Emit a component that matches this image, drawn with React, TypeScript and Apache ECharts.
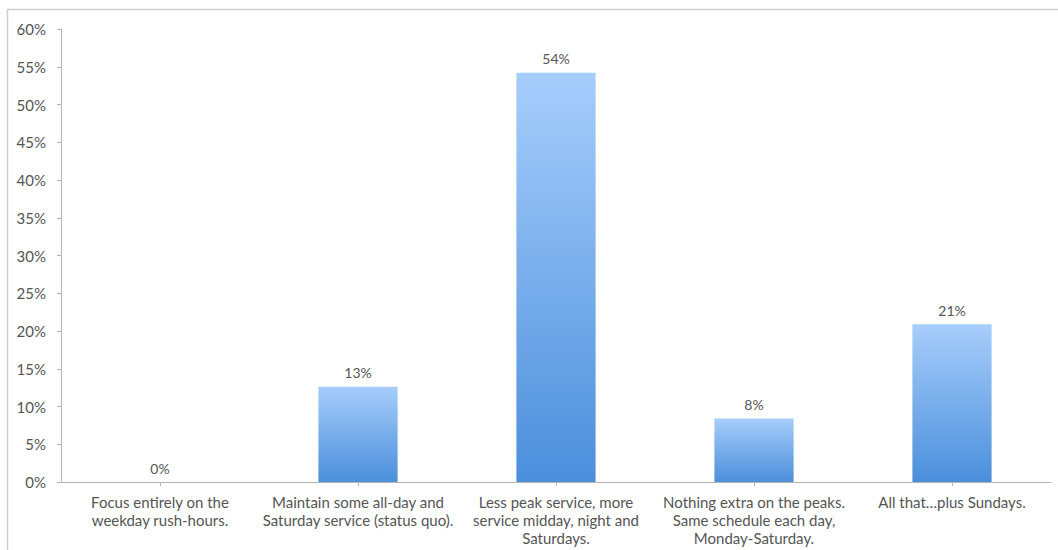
import React, { useEffect, useRef } from "react";
import * as echarts from "echarts";

const categories = [
  "Focus entirely on the\nweekday rush-hours.",
  "Maintain some all-day and\nSaturday service (status quo).",
  "Less peak service, more\nservice midday, night and\nSaturdays.",
  "Nothing extra on the peaks.\nSame schedule each day,\nMonday-Saturday.",
  "All that…plus Sundays.",
];
const values = [0, 12.6, 54.2, 8.4, 20.9];
const yTicks = { min: 0, max: 60, interval: 5 };

export default function App() {
  const ref = useRef<HTMLDivElement>(null);
  useEffect(() => {
    const chart = echarts.init(ref.current!, null, { renderer: "svg" });
    const font = "Lato, 'Open Sans', sans-serif";
    chart.setOption({
      animation: false,
      backgroundColor: "#ffffff",
      textStyle: { fontFamily: font },
      grid: { left: 61, right: 7, top: 29, bottom: 68 },
      graphic: [
        { type: "line", shape: { x1: 7.5, y1: 9, x2: 7.5, y2: 550 }, style: { stroke: "#cfcfcf", lineWidth: 1.5 } },
        { type: "line", shape: { x1: 7, y1: 9.5, x2: 1058, y2: 9.5 }, style: { stroke: "#cfcfcf", lineWidth: 1.5 } },
      ],
      xAxis: {
        type: "category",
        data: categories,
        axisLine: { lineStyle: { color: "#b5b5b5" } },
        axisTick: { show: true, alignWithLabel: true, length: 4, lineStyle: { color: "#b5b5b5" } },
        axisLabel: {
          color: "#555555",
          fontSize: 15,
          fontFamily: font,
          lineHeight: 18,
          margin: 11,
          interval: 0,
        },
      },
      yAxis: {
        type: "value",
        min: yTicks.min,
        max: yTicks.max,
        interval: yTicks.interval,
        axisLine: { show: true, lineStyle: { color: "#b5b5b5" } },
        axisTick: { show: true, length: 4, lineStyle: { color: "#b5b5b5" } },
        splitLine: { show: false },
        axisLabel: {
          formatter: "{value}%",
          color: "#555555",
          fontSize: 15,
          fontFamily: font,
          margin: 15,
        },
      },
      series: [
        {
          type: "bar",
          data: values,
          barWidth: "40%",
          itemStyle: {
            color: new echarts.graphic.LinearGradient(0, 0, 0, 1, [
              { offset: 0, color: "#a7cdfb" },
              { offset: 1, color: "#4b8fdb" },
            ]),
          },
          label: {
            show: true,
            position: "top",
            distance: 7,
            color: "#555555",
            fontSize: 14,
            fontFamily: font,
            formatter: (p: any) => Math.round(p.value) + "%",
          },
        },
      ],
    });
    return () => chart.dispose();
  }, []);
  return (
    <div
      ref={ref}
      style={{ position: "absolute", left: 0, top: 0, width: 1058, height: 550 }}
    />
  );
}
